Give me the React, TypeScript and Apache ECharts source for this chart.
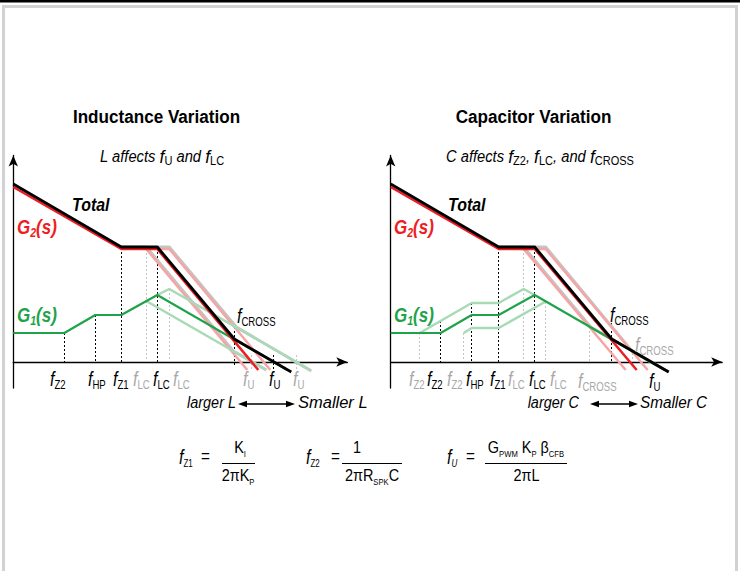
import React, { useEffect, useRef } from 'react';
import * as echarts from 'echarts';

type Pt = [number, number];

// ---------- Left panel: inductance variation (x: log-frequency units, y: gain units) ----------
const lTotal: Pt[] = [[0, 17.8], [10.8, 11.5], [14.4, 11.5], [22.1, 2.3], [27.8, -1.0]];
const lG2: Pt[] = [[0, 17.5], [10.8, 11.3], [14.4, 11.3], [24.5, -0.8]];
const lG1: Pt[] = [[0, 2.9], [5.1, 2.9], [8.2, 4.7], [10.8, 4.7], [14.4, 6.7], [27.4, -0.8]];
const lTotalLargeL: Pt[] = [[10.8, 11.5], [13.3, 11.5], [22.0, 1.1], [25.3, -0.8]];
const lTotalSmallL: Pt[] = [[14.4, 11.5], [15.6, 11.5], [22.3, 3.5], [29.8, -0.9]];
const lG1LargeL: Pt[] = [[13.3, 6.1], [25.3, -0.8]];
const lG1SmallL: Pt[] = [[14.4, 6.7], [15.6, 7.3], [29.7, -0.8]];
const lG2LargeL: Pt[] = [[13.3, 11.3], [23.4, -0.8]];
const lG2SmallL: Pt[] = [[14.4, 11.3], [15.6, 11.3], [25.7, -0.8]];
// guide lines: [x, yFrom, yTo]
const lGuidesBlack: number[][] = [[5.1, 2.9, 0], [8.2, 4.7, 0], [10.8, 11.4, 0], [14.4, 11.4, 0], [22.1, 3.9, -0.3], [26.0, 0.7, -0.8]];
const lGuidesGray: number[][] = [[13.3, 11.3, 0], [15.6, 7.3, 0], [23.8, 0.7, -0.8], [28.3, 0.7, -0.8]];

// ---------- Right panel: capacitor variation ----------
const rTotal: Pt[] = [[0, 17.8], [10.8, 11.5], [14.4, 11.5], [22.1, 2.3], [27.8, -1.0]];
const rG2: Pt[] = [[0, 17.5], [10.8, 11.3], [14.4, 11.3], [24.6, -0.8]];
const rG1: Pt[] = [[0, 2.9], [5.0, 2.9], [8.1, 4.7], [10.8, 4.7], [14.4, 6.7], [27.4, -0.8]];
const rG1LargeC: Pt[] = [[2.9, 2.9], [8.1, 5.9], [10.8, 5.9], [13.3, 7.3], [14.4, 6.7]];
const rG1SmallC: Pt[] = [[7.3, 2.9], [8.1, 3.4], [10.8, 3.4], [15.5, 6.05]];
const rTotalLargeC: Pt[] = [[10.8, 11.5], [13.3, 11.5], [20.0, 3.5], [27.8, -1.0]];
const rTotalSmallC: Pt[] = [[14.4, 11.5], [15.5, 11.5], [24.2, 1.0], [27.8, -1.0]];
const rG2LargeC: Pt[] = [[13.3, 11.3], [23.5, -0.8]];
const rG2SmallC: Pt[] = [[14.4, 11.3], [15.5, 11.3], [25.7, -0.8]];
const rGuidesBlack: number[][] = [[5.0, 4.1, 0], [8.1, 5.9, 0], [10.8, 11.4, 0], [14.4, 11.4, 0], [22.1, 3.9, 0]];
const rGuidesGray: number[][] = [[2.9, 2.9, 0], [7.3, 2.9, 0], [13.3, 11.3, 0], [15.5, 6.0, 0], [19.9, 3.5, 0], [24.2, 1.3, 0]];

// ---------- Texts ----------
const titles = ['Inductance Variation', 'Capacitor Variation'];
const leftAxisLabels = [
  { sub: 'Z2', gray: false }, { sub: 'HP', gray: false }, { sub: 'Z1', gray: false },
  { sub: 'LC', gray: true }, { sub: 'LC', gray: false }, { sub: 'LC', gray: true },
  { sub: 'U', gray: true }, { sub: 'U', gray: false }, { sub: 'U', gray: true },
];
const leftAxisLabelX = [50, 88, 113, 133, 153, 173, 243, 269, 293];
const rightAxisLabels = [
  { sub: 'Z2', gray: true }, { sub: 'Z2', gray: false }, { sub: 'Z2', gray: true },
  { sub: 'HP', gray: false }, { sub: 'Z1', gray: false }, { sub: 'LC', gray: true },
  { sub: 'LC', gray: false }, { sub: 'LC', gray: true }, { sub: 'CROSS', gray: true }, { sub: 'U', gray: false },
];
const rightAxisLabelX = [409, 427, 447, 466, 490, 508, 529, 550, 578, 649];

const FONT = "'Liberation Sans Narrow', 'Arial Narrow', 'Liberation Sans', Arial, sans-serif";
const BLACK = '#000000';
const RED = '#ee1d23';
const GREEN = '#1fa34a';
const GRAY_LINE = '#c4c4c4';
const PINK = '#f5a5a5';
const LIGHT_GREEN = '#a8dab6';
const GRAY_TEXT = '#a8a8a8';

const fsub = (x: number, y: number, sub: string, color: string, o: any = {}) => {
  const fs = o.fs || 20;
  const ss = o.ss || 12;
  return {
    type: 'text', x, y, z: 20, silent: true, scaleX: o.sx || 0.8,
    style: {
      text: `{f|f}{s|${sub}}`,
      align: o.align || 'left', verticalAlign: 'middle',
      rich: {
        f: { fontFamily: FONT, fontStyle: 'italic', fontSize: fs, lineHeight: fs + 4, fill: color },
        s: { fontFamily: FONT, fontStyle: o.subItalic ? 'italic' : 'normal', fontSize: ss, lineHeight: ss, verticalAlign: 'bottom', fill: color },
      },
    },
  };
};

const plain = (x: number, y: number, text: string, o: any = {}) => ({
  type: 'text', x, y, z: 20, silent: true, scaleX: o.sx || 0.85,
  style: {
    text, fill: o.color || BLACK, fontFamily: FONT, fontSize: o.fs || 17,
    fontStyle: o.italic ? 'italic' : 'normal', fontWeight: o.bold ? 'bold' : 'normal',
    align: o.align || 'left', verticalAlign: 'middle',
  },
});

const gLabel = (x: number, y: number, n: string, color: string) => ({
  type: 'text', x, y, z: 20, silent: true, scaleX: 0.81,
  style: {
    text: `{g|G}{s|${n}}{g|(s)}`, align: 'left', verticalAlign: 'middle',
    rich: {
      g: { fontFamily: FONT, fontStyle: 'italic', fontWeight: 'bold', fontSize: 21, lineHeight: 25, fill: color },
      s: { fontFamily: FONT, fontStyle: 'italic', fontWeight: 'bold', fontSize: 13, lineHeight: 13, verticalAlign: 'bottom', fill: color },
    },
  },
});

const richText = (x: number, y: number, text: string, align: string, nSize: number, sSize: number, italic: boolean, sx: number) => ({
  type: 'text', x, y, z: 20, silent: true, scaleX: sx,
  style: {
    text, align, verticalAlign: 'middle',
    rich: {
      n: { fontFamily: FONT, fontStyle: italic ? 'italic' : 'normal', fontSize: nSize, lineHeight: nSize + 6, fill: BLACK },
      f: { fontFamily: FONT, fontStyle: 'italic', fontSize: nSize + 3, lineHeight: nSize + 6, fill: BLACK },
      s: { fontFamily: FONT, fontSize: sSize, lineHeight: sSize, verticalAlign: 'bottom', fill: BLACK },
    },
  },
});

const arrowLR = (x1: number, x2: number, y: number) => [
  { type: 'line', shape: { x1: x1 + 6, y1: y, x2: x2 - 6, y2: y }, style: { stroke: BLACK, lineWidth: 1.3 }, silent: true },
  { type: 'polygon', shape: { points: [[x1, y], [x1 + 9, y - 3.2], [x1 + 9, y + 3.2]] }, style: { fill: BLACK }, silent: true },
  { type: 'polygon', shape: { points: [[x2, y], [x2 - 9, y - 3.2], [x2 - 9, y + 3.2]] }, style: { fill: BLACK }, silent: true },
];

const hbar = (x1: number, x2: number, y: number) => ({
  type: 'line', shape: { x1, y1: y, x2, y2: y }, style: { stroke: BLACK, lineWidth: 1 }, silent: true,
});

const line = (data: Pt[], color: string, width: number, gi: number, z: number) => ({
  type: 'line', xAxisIndex: gi, yAxisIndex: gi, data, symbol: 'none', silent: true, z,
  lineStyle: { color, width, join: 'round' },
});

const guides = (arr: number[][], color: string, gi: number) => ({
  type: 'lines', coordinateSystem: 'cartesian2d', xAxisIndex: gi, yAxisIndex: gi, silent: true, z: 1,
  data: arr.map(([x, a, b]) => ({ coords: [[x, a], [x, b]] })),
  lineStyle: { color, width: 1, type: [2, 2], opacity: 1 },
});

const App: React.FC = () => {
  const ref = useRef<HTMLDivElement>(null);
  useEffect(() => {
    if (!ref.current) return;
    const chart = echarts.init(ref.current, undefined, { renderer: 'svg' });
    const axisCommon = {
      type: 'value',
      axisTick: { show: false }, axisLabel: { show: false }, splitLine: { show: false },
    };
    const axisLine = { show: true, onZero: true, symbol: ['none', 'arrow'], symbolSize: [7, 11], lineStyle: { color: BLACK, width: 1.3 } };

    const graphics: any[] = [
      { type: 'rect', shape: { x: 0, y: 0, width: 740, height: 2.5 }, style: { fill: BLACK }, silent: true },
      { type: 'rect', shape: { x: 3.5, y: 6.5, width: 733, height: 620 }, style: { fill: 'none', stroke: '#d2d2d2', lineWidth: 3 }, silent: true },
      plain(156.5, 117, titles[0], { bold: true, fs: 19, align: 'center', sx: 0.9 }),
      plain(533.5, 117, titles[1], { bold: true, fs: 19, align: 'center', sx: 0.9 }),
      richText(162, 156, '{n|L affects }{f|f}{s|U}{n| and }{f|f}{s|LC}', 'center', 16, 12, true, 0.92),
      richText(540, 156, '{n|C affects }{f|f}{s|Z2}{n|, }{f|f}{s|LC}{n|, and }{f|f}{s|CROSS}', 'center', 16, 12, true, 0.92),
      plain(72, 205, 'Total', { bold: true, italic: true, fs: 19, sx: 0.84 }),
      plain(448, 205, 'Total', { bold: true, italic: true, fs: 19, sx: 0.84 }),
      gLabel(17, 227, '2', RED), gLabel(17, 315, '1', GREEN),
      gLabel(394, 227, '2', RED), gLabel(394, 315, '1', GREEN),
      fsub(237, 316, 'CROSS', BLACK),
      fsub(610, 315, 'CROSS', BLACK),
      fsub(635, 345, 'CROSS', GRAY_TEXT),
      plain(236, 402, 'larger L', { italic: true, fs: 17, align: 'right' }),
      plain(298, 402, 'Smaller L', { italic: true, fs: 17, sx: 0.97 }),
      plain(579, 402, 'larger C', { italic: true, fs: 17, align: 'right' }),
      plain(640, 402, 'Smaller C', { italic: true, fs: 17, sx: 0.9 }),
      ...arrowLR(238, 295, 404),
      ...arrowLR(590, 638, 404),
      // formulas
      fsub(179, 457, 'Z1', BLACK, { fs: 20, ss: 10 }),
      plain(201, 456, '=', { fs: 18 }),
      richText(240, 447, '{n|K}{s|I}', 'center', 17, 9, false, 0.85),
      hbar(222, 255, 463.5),
      richText(238, 475, '{n|2πK}{s|P}', 'center', 17, 9, false, 0.85),
      fsub(306, 457, 'Z2', BLACK, { fs: 20, ss: 10 }),
      plain(331, 456, '=', { fs: 18 }),
      richText(357, 447, '{n|1}', 'center', 17, 9, false, 0.85),
      hbar(342, 402, 463.5),
      richText(372, 475, '{n|2πR}{s|SPK}{n|C}', 'center', 17, 9, false, 0.85),
      fsub(447, 457, 'U', BLACK, { fs: 20, ss: 10, subItalic: true }),
      plain(466, 456, '=', { fs: 18 }),
      richText(526, 447, '{n|G}{s|PWM}{n| K}{s|P}{n| β}{s|CFB}', 'center', 17, 9, false, 0.85),
      hbar(485, 567, 463.5),
      richText(526.5, 475, '{n|2πL}', 'center', 17, 9, false, 0.85),
    ];
    leftAxisLabels.forEach((l, i) => graphics.push(fsub(leftAxisLabelX[i], 379, l.sub, l.gray ? GRAY_TEXT : BLACK)));
    rightAxisLabels.forEach((l, i) => graphics.push(fsub(rightAxisLabelX[i], l.sub === 'CROSS' || l.sub === 'U' ? 381 : 379, l.sub, l.gray ? GRAY_TEXT : BLACK)));

    chart.setOption({
      animation: false,
      backgroundColor: '#ffffff',
      grid: [
        { left: 13.3, top: 155.5, width: 334, height: 232.5 },
        { left: 390.7, top: 155.5, width: 331.5, height: 232.5 },
      ],
      xAxis: [
        { ...axisCommon, gridIndex: 0, min: 0, max: 33.4, axisLine },
        { ...axisCommon, gridIndex: 1, min: 0, max: 33.15, axisLine },
      ],
      yAxis: [
        { ...axisCommon, gridIndex: 0, min: -2.6, max: 20.65, axisLine },
        { ...axisCommon, gridIndex: 1, min: -2.6, max: 20.65, axisLine },
      ],
      series: [
        guides(lGuidesBlack, BLACK, 0),
        guides(lGuidesGray, GRAY_LINE, 0),
        line(lTotalLargeL, GRAY_LINE, 3, 0, 2),
        line(lTotalSmallL, GRAY_LINE, 3, 0, 2),
        line(lG2LargeL, PINK, 2.5, 0, 3),
        line(lG2SmallL, PINK, 2.5, 0, 3),
        line(lG1LargeL, LIGHT_GREEN, 2.5, 0, 4),
        line(lG1SmallL, LIGHT_GREEN, 2.5, 0, 4),
        line(lG1, GREEN, 2.2, 0, 5),
        line(lG2, RED, 2.5, 0, 6),
        line(lTotal, BLACK, 2.8, 0, 7),
        guides(rGuidesBlack, BLACK, 1),
        guides(rGuidesGray, GRAY_LINE, 1),
        line(rTotalLargeC, GRAY_LINE, 3, 1, 2),
        line(rTotalSmallC, GRAY_LINE, 3, 1, 2),
        line(rG2LargeC, PINK, 2.5, 1, 3),
        line(rG2SmallC, PINK, 2.5, 1, 3),
        line(rG1LargeC, LIGHT_GREEN, 2.5, 1, 4),
        line(rG1SmallC, LIGHT_GREEN, 2.5, 1, 4),
        line(rG1, GREEN, 2.2, 1, 5),
        line(rG2, RED, 2.5, 1, 6),
        line(rTotal, BLACK, 2.8, 1, 7),
      ],
      graphic: { elements: graphics },
    });
    return () => chart.dispose();
  }, []);
  return <div ref={ref} style={{ position: 'absolute', left: 0, top: 0, width: 740, height: 571 }} />;
};

export default App;
